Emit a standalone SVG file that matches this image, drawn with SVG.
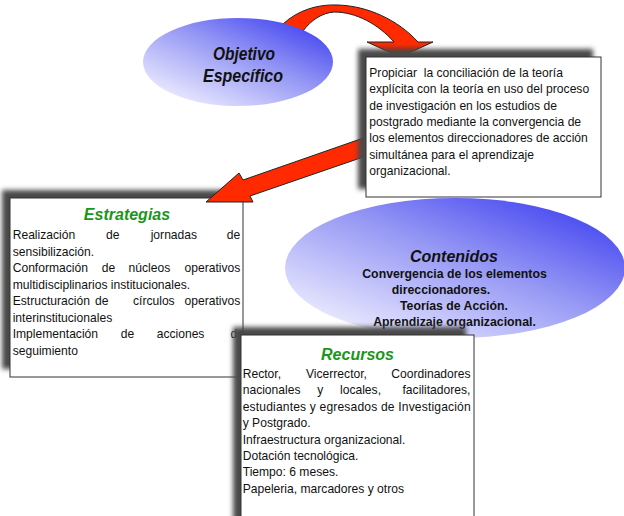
<svg xmlns="http://www.w3.org/2000/svg" width="624" height="516" viewBox="0 0 624 516">
<defs>
  <linearGradient id="blueG" x1="0.95" y1="0.05" x2="0.1" y2="0.95">
    <stop offset="0" stop-color="#3a3cf0"/>
    <stop offset="0.45" stop-color="#9496f4"/>
    <stop offset="1" stop-color="#f2f2ff"/>
  </linearGradient>
  <linearGradient id="redG" x1="0" y1="0" x2="0" y2="1">
    <stop offset="0" stop-color="#ff2a00"/>
    <stop offset="0.75" stop-color="#ff2a00"/>
    <stop offset="1" stop-color="#b01800"/>
  </linearGradient>
  <filter id="sh" x="-10%" y="-10%" width="120%" height="120%">
    <feGaussianBlur stdDeviation="2.5"/>
  </filter>
</defs>
<style>
  .box { fill: #ffffff; stroke: #333333; stroke-width: 1; }
  .shadow { fill: #4a4a4a; filter: url(#sh); }
  .ell { fill: url(#blueG); }
  .arrow { fill: #ff2a00; stroke: #222222; stroke-width: 1; stroke-linejoin: miter; }
  .body { font-family: "Liberation Sans", Arial, sans-serif; font-size: 12.1px; fill: #111111; }
  .ctitle { font-family: "Liberation Sans", Arial, sans-serif; font-size: 16px; font-weight: bold; font-style: italic; fill: #1a961a; text-anchor: middle; }
  .btitle { font-family: "Liberation Sans", Arial, sans-serif; font-weight: bold; font-style: italic; fill: #111111; text-anchor: middle; }
  .cbody { font-family: "Liberation Sans", Arial, sans-serif; font-size: 12.3px; font-weight: bold; fill: #111111; text-anchor: middle; }
</style>

<g id="contenidos">
  <ellipse class="ell" cx="455" cy="268" rx="170" ry="70"/>
  <text class="btitle" x="454" y="262" font-size="16">Contenidos</text>
  <text class="cbody" x="454.5" y="278">Convergencia de los elementos</text>
  <text class="cbody" x="441" y="293.5">direccionadores.</text>
  <text class="cbody" x="454" y="309.5">Teorías de Acción.</text>
  <text class="cbody" x="454.5" y="325.5">Aprendizaje organizacional.</text>
</g>

<g id="estrategias">
  <rect class="shadow" x="2" y="190" width="233" height="179"/>
  <rect class="box" x="10" y="198" width="233" height="179"/>
  <text class="ctitle" x="127" y="220">Estrategias</text>
  <text class="body" y="239"><tspan x="12.7">Realización</tspan> <tspan x="106">de</tspan> <tspan x="150.7">jornadas</tspan> <tspan x="226.8">de</tspan></text>
  <text class="body" x="12.7" y="255.5">sensibilización.</text>
  <text class="body" y="272"><tspan x="12.7">Conformación</tspan> <tspan x="101.7">de</tspan> <tspan x="128.5">núcleos</tspan> <tspan x="184.5">operativos</tspan></text>
  <text class="body" x="12.7" y="288.5">multidisciplinarios institucionales.</text>
  <text class="body" y="305"><tspan x="12.7">Estructuración</tspan> <tspan x="95">de</tspan>  <tspan x="133">círculos</tspan> <tspan x="184.5">operativos</tspan></text>
  <text class="body" x="12.7" y="321.5">interinstitucionales</text>
  <text class="body" y="338"><tspan x="12.7">Implementación</tspan> <tspan x="120.7">de</tspan> <tspan x="156.7">acciones</tspan> <tspan x="230.5">de</tspan></text>
  <text class="body" x="12.7" y="354.5">seguimiento</text>
</g>

<g id="connectors">
  <path id="arrow-objetivo-proposito" class="arrow" style="fill:url(#redG)" d="M276,34 L283,24 C298,10 318,4 338,5 C368,6 398,20 418,42 L433,42 L400,57 L367,42 L394,42 C378,24 356,12 334,12 C322,13 311,20 303,31 L300,42 Z"/>
  <path id="arrow-proposito-estrategias" class="arrow" d="M372,135 L243,180 L239,173 L206,202 L253,202 L250,196 L372,154 Z"/>
</g>

<g id="objetivo">
  <ellipse class="ell" cx="238" cy="62" rx="95" ry="44"/>
  <text class="btitle" x="244" y="60" font-size="18" textLength="62" lengthAdjust="spacingAndGlyphs">Objetivo</text>
  <text class="btitle" x="243" y="82" font-size="18" textLength="80" lengthAdjust="spacingAndGlyphs">Específico</text>
</g>

<g id="proposito">
  <rect class="shadow" x="358" y="49" width="235" height="140"/>
  <rect class="box" x="366" y="57" width="235" height="140"/>
  <text class="body" x="369.3" y="77" xml:space="preserve">Propiciar  la conciliación de la teoría</text>
  <text class="body" x="369.3" y="93.3">explícita con la teoría en uso del proceso</text>
  <text class="body" x="369.3" y="109.6">de investigación en los estudios de</text>
  <text class="body" x="369.3" y="126">postgrado mediante la convergencia de</text>
  <text class="body" x="369.3" y="142.3">los elementos direccionadores de acción</text>
  <text class="body" x="369.3" y="158.6">simultánea para el aprendizaje</text>
  <text class="body" x="369.3" y="175">organizacional.</text>
</g>

<g id="recursos">
  <rect class="shadow" x="233" y="327" width="233" height="200"/>
  <rect class="box" x="241" y="335" width="233" height="195"/>
  <text class="ctitle" x="357.5" y="360">Recursos</text>
  <text class="body" y="378"><tspan x="242.7">Rector,</tspan> <tspan x="306">Vicerrector,</tspan> <tspan x="391.3">Coordinadores</tspan></text>
  <text class="body" y="394.4"><tspan x="242.7">nacionales</tspan> <tspan x="317.3">y</tspan> <tspan x="340">locales,</tspan> <tspan x="402.5">facilitadores,</tspan></text>
  <text class="body" x="242.7" y="410.8" textLength="228" lengthAdjust="spacing">estudiantes y egresados de Investigación</text>
  <text class="body" x="242.7" y="427.2">y Postgrado.</text>
  <text class="body" x="242.7" y="443.6">Infraestructura organizacional.</text>
  <text class="body" x="242.7" y="460">Dotación tecnológica.</text>
  <text class="body" x="242.7" y="476.4">Tiempo: 6 meses.</text>
  <text class="body" x="242.7" y="492.8">Papeleria, marcadores y otros</text>
</g>
</svg>
